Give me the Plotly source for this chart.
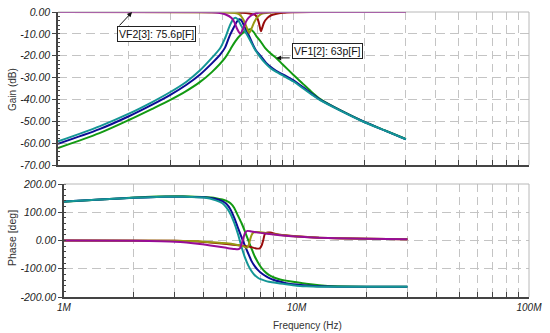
import plotly.graph_objects as go

# ---------------- data (frequencies in MHz) ----------------
# Gain curves (top plot)
teal_gain_f = [1, 1.5, 2, 2.5, 3, 3.5, 4, 4.5, 4.88, 5.12, 5.38, 5.55, 5.66, 5.8, 6.0, 6.24, 6.55, 6.87, 7.21, 7.57, 7.95, 8.45, 9.0, 10, 11, 12, 12.96, 15.8, 19.8, 24.5, 30]
teal_gain = [-59.2, -52.3, -46.5, -41.3, -36.6, -32, -26.8, -21, -16.6, -12, -5.9, -3.2, -2.6, -3.4, -6.3, -9, -13, -17.3, -20.5, -23.3, -25.5, -27.4, -29, -31.8, -35, -37.9, -40.3, -45.1, -50.2, -54.3, -58.2]

blue_gain_f = [1, 1.5, 2, 2.5, 3, 3.5, 4, 4.5, 4.88, 5.12, 5.35, 5.56, 5.72, 5.87, 6.0, 6.2, 6.4, 6.9, 7.3, 7.65, 8.2, 8.7, 9.3, 10, 11, 12, 12.96, 15.8, 19.8, 24.5, 30]
blue_gain = [-60.3, -53.6, -47.7, -42.5, -37.9, -33.4, -28.7, -23.5, -19.5, -16.3, -11, -7.3, -4.8, -3.3, -3.8, -6.8, -9.7, -17.3, -20.5, -23.3, -26, -27.7, -29.3, -31.3, -34.5, -37.6, -40.1, -45, -50.1, -54.3, -58.2]

green_gain_f = [1, 1.5, 2, 2.5, 3, 3.5, 4, 4.5, 5.12, 5.4, 5.66, 6.0, 6.24, 6.55, 6.75, 6.95, 7.25, 7.57, 8.0, 8.44, 9, 10, 11, 12, 13, 15.8, 19.8, 24.5, 30]
green_gain = [-62.2, -55.4, -49.4, -44.4, -40.2, -36.2, -32.1, -27.5, -21, -17, -13.4, -10.2, -8.8, -7.9, -9, -11, -13.5, -16.4, -19, -21, -24, -28.8, -33, -36.8, -39.8, -44.9, -50, -54.2, -58.1]

purple_gain_f = [1, 4, 4.5, 4.8, 5.12, 5.46, 5.6, 5.74, 5.85, 5.94, 6.03, 6.13, 6.28, 6.44, 6.7, 6.98, 7.5, 8.5, 10, 30]
purple_gain = [0, -0.05, -0.15, -0.4, -1.0, -2.7, -4.5, -7.3, -9, -10, -9, -7.3, -4.5, -2.7, -1.2, -0.5, -0.2, -0.05, 0, 0]

olive_gain_f = [1, 5, 5.5, 5.83, 6.0, 6.13, 6.25, 6.34, 6.41, 6.48, 6.56, 6.65, 6.8, 6.98, 7.2, 7.46, 8, 9, 30]
olive_gain = [0, -0.1, -0.3, -0.8, -2, -3.5, -5.5, -7.3, -8.7, -9.6, -8.7, -7.3, -4.8, -2.7, -1.3, -0.6, -0.2, -0.05, 0]

red_gain_f = [1, 5, 6, 6.5, 6.87, 7.0, 7.1, 7.2, 7.27, 7.35, 7.5, 7.75, 8.0, 8.4, 9, 10, 12, 30]
red_gain = [0, -0.1, -0.35, -0.7, -1.3, -2.5, -4.3, -7, -8.8, -7.5, -4.8, -2.7, -1.6, -0.9, -0.4, -0.15, -0.05, 0]

# Phase curves (bottom plot)
bp_phase_f = [1, 1.5, 2, 2.5, 3, 3.5, 4, 4.5, 4.8, 5.0, 5.2, 5.4, 5.6, 5.8, 6.0, 6.2, 6.4, 6.6, 6.8, 7.0, 7.3, 7.6, 8.0, 8.5, 9, 10, 11, 12.5, 15, 20, 30]
teal_phase = [138, 146, 151, 154, 155, 154, 152, 142, 132, 116, 94, 62, 23, -22, -60, -88, -108, -122, -131, -137, -142, -146, -149, -152, -155, -160, -162, -163.5, -164, -164, -164]
blue_phase = [138, 146, 151, 154, 155, 154, 153, 147, 139, 129, 110, 80, 45, 12, -18, -46, -72, -90, -103, -113, -124, -132, -140, -146, -151, -156, -159, -162, -163.5, -164, -164]
green_phase = [137, 146, 152, 156, 157, 156, 154, 150, 145, 140, 132, 115, 88, 62, 32, 1, -28, -55, -75, -92, -110, -122, -131, -138, -142, -148, -153, -158, -162, -164, -164]

purple_phase_f = [1, 2, 3, 3.84, 4.5, 5.0, 5.4, 5.6, 5.72, 5.82, 5.92, 6.02, 6.15, 6.4, 7, 8, 9, 10, 12.5, 15, 20, 30]
purple_phase = [0, -1, -4, -12, -20, -26, -30, -31, -27, -10, 12, 28, 34, 32, 27, 21, 17, 14, 10, 8, 6, 4]

olive_phase_f = [1, 3, 4, 5, 5.5, 5.9, 6.1, 6.22, 6.3, 6.4, 6.5, 6.7, 7, 8, 10, 12.5, 15, 20, 30]
olive_phase = [0, -1, -4, -10, -15, -20, -26, -18, 0, 18, 27, 30, 29, 22, 14, 10, 8, 6, 4]

red_phase_f = [1, 3, 4, 5, 6, 6.3, 6.7, 6.95, 7.1, 7.2, 7.3, 7.45, 7.7, 8.5, 10, 12.5, 15, 20, 30]
red_phase = [0, -1, -5, -12, -19, -22, -28, -28, -15, 2, 22, 28, 28, 20, 15, 10, 8, 6, 4]

# ticks
x_tick_mhz = [1, 2, 3, 4, 5, 6, 7, 8, 9, 10, 20, 30, 40, 50, 60, 70, 80, 90, 100]
x_tick_text = ["1M", "", "", "", "", "", "", "", "", "10M", "", "", "", "", "", "", "", "", "100M"]
gain_ticks = [0, -10, -20, -30, -40, -50, -60, -70]
gain_tick_text = ["0.00", "-10.00", "-20.00", "-30.00", "-40.00", "-50.00", "-60.00", "-70.00"]
phase_ticks = [200, 100, 0, -100, -200]
phase_tick_text = ["200.00", "100.00", "0.00", "-100.00", "-200.00"]

TEAL = "#149696"
BLUE = "#0c0c94"
GREEN = "#129a12"
PURPLE = "#980c98"
OLIVE = "#989812"
RED = "#980c0c"

W, H = 550, 333


def hz(lst):
    return [v * 1e6 for v in lst]


fig = go.Figure()

top_series = [
    (green_gain_f, green_gain, GREEN),
    (blue_gain_f, blue_gain, BLUE),
    (teal_gain_f, teal_gain, TEAL),
    (red_gain_f, red_gain, RED),
    (olive_gain_f, olive_gain, OLIVE),
    (purple_gain_f, purple_gain, PURPLE),
]
for f, v, c in top_series:
    fig.add_trace(go.Scatter(x=hz(f), y=v, mode="lines", xaxis="x", yaxis="y",
                             line=dict(color=c, width=2, shape="spline", smoothing=0.8),
                             showlegend=False, hoverinfo="skip"))

bot_series = [
    (bp_phase_f, green_phase, GREEN),
    (bp_phase_f, blue_phase, BLUE),
    (bp_phase_f, teal_phase, TEAL),
    (red_phase_f, red_phase, RED),
    (olive_phase_f, olive_phase, OLIVE),
    (purple_phase_f, purple_phase, PURPLE),
]
for f, v, c in bot_series:
    fig.add_trace(go.Scatter(x=hz(f), y=v, mode="lines", xaxis="x2", yaxis="y2",
                             line=dict(color=c, width=2, shape="spline", smoothing=0.5),
                             showlegend=False, hoverinfo="skip"))

GRID = "#c4c4c4"
AXC = "#444444"
tickfont = dict(family="Liberation Sans", size=10.5, color="#222222", style="italic")

common_x = dict(type="log", range=[6, 8], tickvals=hz(x_tick_mhz), showgrid=True,
                gridcolor=GRID, griddash="8px,5px", gridwidth=1, showline=True,
                linecolor=AXC, linewidth=1.5, ticks="inside", ticklen=5, tickcolor=AXC,
                zeroline=False, automargin=False,
                tickfont=dict(family="Liberation Sans", size=10, color="#222222", style="italic"))

top_px = (58, 529, 12, 165)
bot_px = (64, 529, 184, 297)


def dom_x(p):
    return [p[0] / W, p[1] / W]


def dom_y(p):
    return [(H - p[3]) / H, (H - p[2]) / H]


fig.update_layout(
    width=W, height=H, margin=dict(l=0, r=0, t=0, b=0, pad=0, autoexpand=False),
    paper_bgcolor="white", plot_bgcolor="white",
    xaxis=dict(common_x, domain=dom_x(top_px), anchor="y", showticklabels=False),
    yaxis=dict(domain=dom_y(top_px), anchor="x", range=[-70, 0], tickvals=gain_ticks,
               ticktext=gain_tick_text, showgrid=True, gridcolor=GRID, griddash="9px,5px",
               showline=True, linecolor=AXC, linewidth=1.5, ticks="outside", ticklen=4,
               tickcolor=AXC, zeroline=False, tickfont=tickfont, automargin=False,
               minor=dict(dtick=2, ticks="inside", ticklen=2, tickcolor=AXC, showgrid=False)),
    xaxis2=dict(common_x, domain=dom_x(bot_px), anchor="y2", ticktext=x_tick_text),
    yaxis2=dict(domain=dom_y(bot_px), anchor="x2", range=[-200, 200], tickvals=phase_ticks,
                ticktext=phase_tick_text, showgrid=True, gridcolor=GRID, griddash="9px,5px",
                showline=True, linecolor=AXC, linewidth=1.5, ticks="outside", ticklen=4,
                tickcolor=AXC, zeroline=False, tickfont=tickfont, automargin=False,
                minor=dict(dtick=20, ticks="inside", ticklen=2, tickcolor=AXC, showgrid=False)),
)

# light frame on top / right of each plot
for xr, yr in (("x domain", "y domain"), ("x2 domain", "y2 domain")):
    fig.add_shape(type="line", xref=xr, yref=yr, x0=0, x1=1, y0=1, y1=1,
                  line=dict(color="#b8b8b8", width=1))
    fig.add_shape(type="line", xref=xr, yref=yr, x0=1, x1=1, y0=0, y1=1,
                  line=dict(color="#b8b8b8", width=1))

titlefont = dict(family="Liberation Sans", color="#333333")
fig.add_annotation(text="Gain (dB)", xref="paper", yref="paper", x=12 / W, y=(H - 90) / H,
                   textangle=-90, showarrow=False, font=dict(titlefont, size=10),
                   xanchor="center", yanchor="middle")
fig.add_annotation(text="Phase [deg]", xref="paper", yref="paper", x=12 / W, y=(H - 238) / H,
                   textangle=-90, showarrow=False, font=dict(titlefont, size=10.5),
                   xanchor="center", yanchor="middle")
fig.add_annotation(text="Frequency (Hz)", xref="paper", yref="paper", x=307 / W, y=(H - 325) / H,
                   showarrow=False, font=dict(titlefont, size=10),
                   xanchor="center", yanchor="middle")

# marker labels
boxfont = dict(family="Liberation Sans", size=10.5, color="#111111")
fig.add_annotation(text="VF2[3]: 75.6p[F]", xref="x", yref="y", x=6.4186, y=-10.27,
                   showarrow=False, bgcolor="white", bordercolor="#222222", borderwidth=1,
                   borderpad=1, font=boxfont, xanchor="center", yanchor="middle")
fig.add_annotation(text="", xref="x", yref="y", x=6.3145, y=0, ax=-14, ay=15,
                   showarrow=True, arrowhead=2, arrowsize=1, arrowwidth=1, arrowcolor="#111111")
fig.add_annotation(text="VF1[2]: 63p[F]", xref="x", yref="y", x=7.1445, y=-17.8,
                   showarrow=False, bgcolor="white", bordercolor="#222222", borderwidth=1,
                   borderpad=1, font=boxfont, xanchor="center", yanchor="middle")
fig.add_annotation(text="", xref="x", yref="y", x=6.9265, y=-21, ax=15, ay=0,
                   showarrow=True, arrowhead=2, arrowsize=1, arrowwidth=1, arrowcolor="#111111")

fig.write_html("out.html")
